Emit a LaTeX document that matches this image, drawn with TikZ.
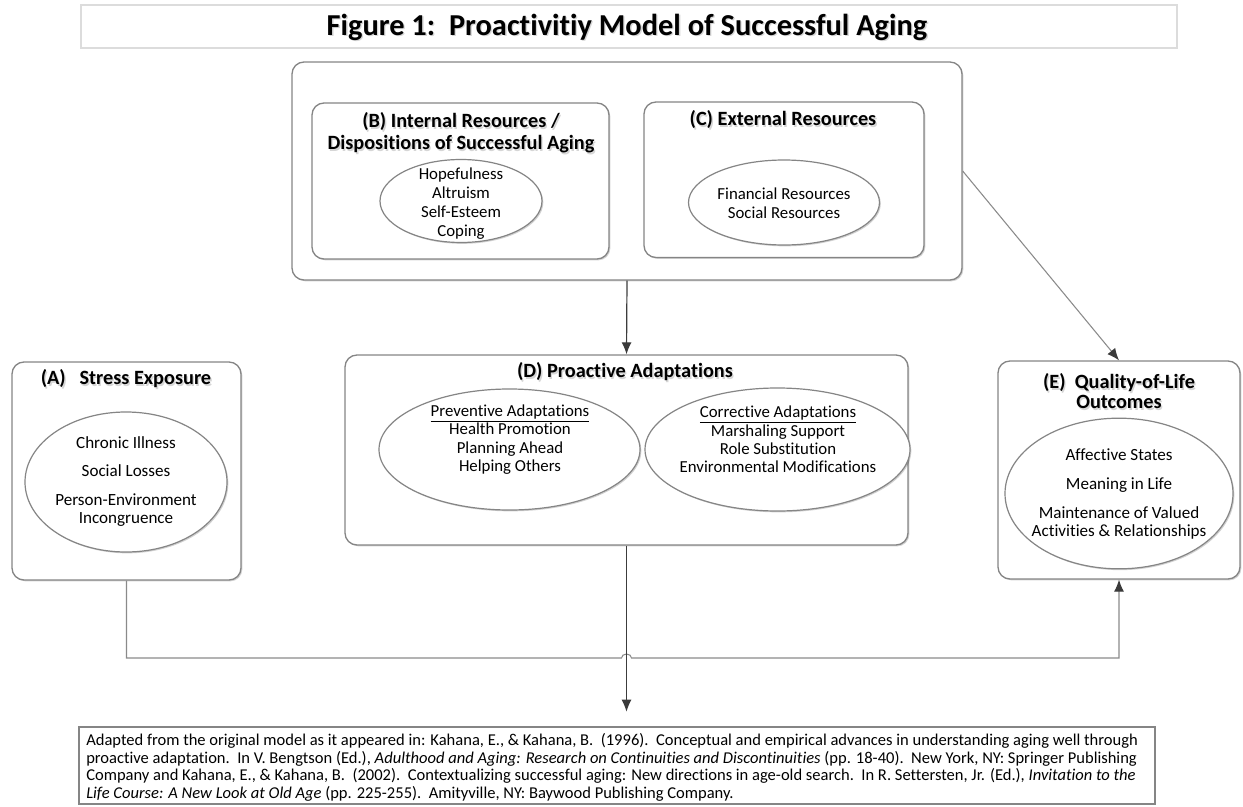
\documentclass[tikz,border=0pt]{standalone}
\usepackage{fontspec}
\setmainfont[Ligatures=NoCommon]{Carlito}
\usetikzlibrary{arrows.meta,fit,shapes.geometric,shadows}

\definecolor{boxgray}{HTML}{858585}
\definecolor{linegray}{HTML}{8A8A8A}
\definecolor{darkline}{HTML}{3C3C3C}
\definecolor{tipgray}{HTML}{3A3A3A}
\definecolor{titlegray}{HTML}{DCDCDC}

% heading text with a soft offset shadow underneath
\newcommand\shadedhead[4][]{%
  \node[head,#1,text=black!16,xshift=1pt,yshift=-1pt] (#2-sh) at #3 {#4};
  \node[head,#1] (#2) at #3 {#4};}

\begin{document}
\begin{tikzpicture}[x=0.75pt,y=-0.75pt,
  softshadow/.style={drop shadow={shadow xshift=1pt, shadow yshift=-1pt, fill=black, opacity=0.18}},
  titlebox/.style={draw=titlegray, line width=0.8pt, inner sep=0pt},
  frame/.style={draw=boxgray, fill=white, line width=1pt, rounded corners=9pt, inner sep=0pt, softshadow},
  citebox/.style={draw=boxgray, fill=white, line width=0.9pt, inner sep=0pt, softshadow},
  oval/.style={draw=boxgray, fill=white, line width=0.9pt, ellipse, inner sep=0pt, softshadow},
  head/.style={font=\fontsize{15.2}{16.7}\selectfont\bfseries, align=center, inner sep=0pt},
  items/.style={font=\fontsize{12.6}{14.2}\selectfont, align=center, inner sep=0pt},
  citeline/.style={font=\fontsize{12.4}{13}\selectfont, anchor=west, inner sep=0pt},
  tip/.style={-{Latex[length=9pt,width=7.5pt,color=tipgray]}},
  conn/.style={draw=linegray, line width=0.8pt, tip},
  darkconn/.style={draw=darkline, line width=0.9pt, tip}
]
\useasboundingbox (0,0) rectangle (1243,807);

% heading
\node[titlebox, fit={(81,5) (1177,48)}] (titlebar) {};
\shadedhead[font=\fontsize{22.8}{24}\selectfont\bfseries]{title}{(627,27)}
  {Figure 1:\ \ Proactivitiy Model of Successful Aging}

% resources container with (B) and (C)
\node[frame, fit={(292,62) (962,280)}] (res) {};
\node[frame, fit={(312,103) (609,259)}] (B) {};
\shadedhead{Bhead}{(461,133)}{(B) Internal Resources /\\Dispositions of Successful Aging}
\node[oval, minimum width=121.5pt, minimum height=62.25pt] (Bov) at (461,201) {};
\node[items] (Bitems) at (461,204) {Hopefulness\\Altruism\\Self-Esteem\\Coping};

\node[frame, fit={(644,102) (924,257.5)}] (C) {};
\shadedhead{Chead}{(783,120)}{(C) External Resources}
\node[oval, minimum width=143.25pt, minimum height=63.75pt] (Cov) at (784,202.5) {};
\node[items] (Citems) at (784,203) {Financial Resources\\Social Resources};

% (A) stress exposure
\node[frame, fit={(12,362) (241,580)}] (A) {};
\shadedhead{Ahead}{(126,379)}{(A)\ \ \ Stress Exposure}
\node[oval, minimum width=151.5pt, minimum height=105pt] (Aov) at (126,482) {};
\node[items, font=\fontsize{12.8}{13.5}\selectfont] (Aitems) at (126,481.5)
  {Chronic Illness\\[8pt]Social Losses\\[8pt]Person-Environment\\Incongruence};

% (D) proactive adaptations
\node[frame, fit={(345,355) (908,545)}] (D) {};
\shadedhead{Dhead}{(625,372)}{(D) Proactive Adaptations}
\node[oval, minimum width=195.75pt, minimum height=90.75pt] (Dl) at (509.5,449.5) {};
\node[items, font=\fontsize{12.6}{13.8}\selectfont] (Dlitems) at (510,439.5)
  {\underline{Preventive Adaptations}\\Health Promotion\\Planning Ahead\\Helping Others};
\node[oval, minimum width=198.75pt, minimum height=92.25pt] (Dr) at (777.5,449.5) {};
\node[items, font=\fontsize{12.6}{13.8}\selectfont] (Dritems) at (778,439.5)
  {\underline{Corrective Adaptations}\\Marshaling Support\\Role Substitution\\Environmental Modifications};

% (E) quality-of-life outcomes
\node[frame, fit={(998,361) (1240,579)}] (E) {};
\shadedhead[font=\fontsize{15.2}{15}\selectfont\bfseries]{Ehead}{(1119,391.5)}{(E)\ \ Quality-of-Life\\Outcomes}
\node[oval, minimum width=171pt, minimum height=113pt] (Eov) at (1119,493.5) {};
\node[items, font=\fontsize{12.8}{13.5}\selectfont] (Eitems) at (1119,494)
  {Affective States\\[8pt]Meaning in Life\\[8pt]Maintenance of Valued\\Activities \& Relationships};

% source note
\node[citebox, fit={(79,727) (1155,804)}] (cite) {};
\node[citeline] (c1) at (86,741) {Adapted from the original model as it appeared in: Kahana, E., \& Kahana, B.\ \ (1996).\ \ Conceptual and empirical advances in understanding aging well through};
\node[citeline] (c2) at (86,758.5) {proactive adaptation.\ \ In V. Bengtson (Ed.), \textit{Adulthood and Aging: Research on Continuities and Discontinuities} (pp. 18-40).\ \ New York, NY: Springer Publishing};
\node[citeline] (c3) at (86,776) {Company and Kahana, E., \& Kahana, B.\ \ (2002).\ \ Contextualizing successful aging: New directions in age-old search.\ \ In R. Settersten, Jr. (Ed.), \textit{Invitation to the}};
\node[citeline] (c4) at (86,793.5) {\textit{Life Course: A New Look at Old Age} (pp. 225-255).\ \ Amityville, NY: Baywood Publishing Company.};

% connectors
\draw[darkconn] (res.south) -- (D.north);
\draw[conn] (res.east) -- (E.north);
\draw[conn] (A.south) |- (621.5,658)
  arc[start angle=180, end angle=0, x radius=3.75pt, y radius=3pt]
  -- (E.south |- 0,658) -- (E.south);
\draw[darkconn, shorten >=11pt] (D.south) -- (D.south |- cite.north);
\end{tikzpicture}
\end{document}
